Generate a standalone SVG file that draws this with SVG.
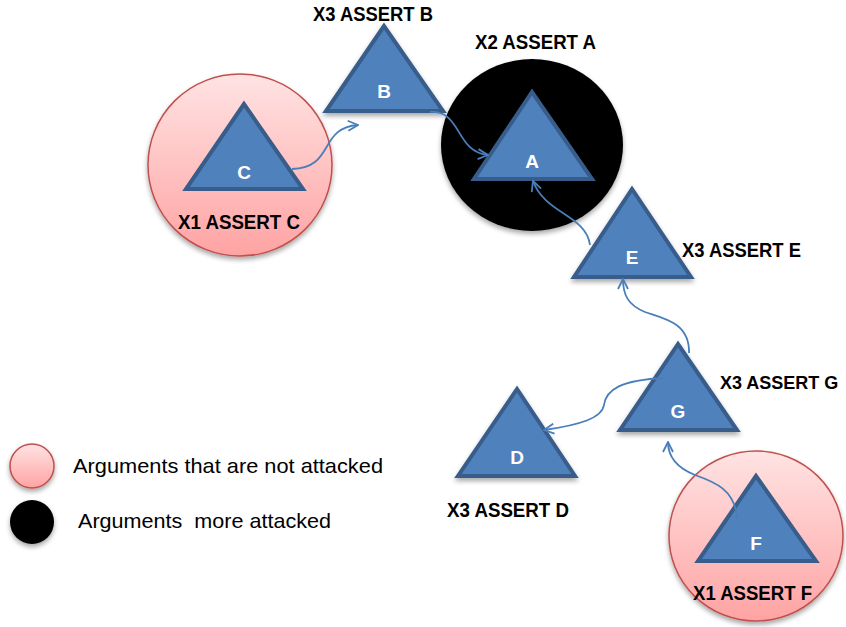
<svg xmlns="http://www.w3.org/2000/svg" width="846" height="627" viewBox="0 0 846 627">
<style>
.tri{fill:#4F81BD;stroke:#385D8A;stroke-width:4;stroke-linejoin:miter}
.tl{fill:#FFFFFF;font-family:"Liberation Sans",Arial,sans-serif;font-weight:bold;font-size:19px;text-anchor:middle}
.lab{fill:#000000;font-family:"Liberation Sans",Arial,sans-serif;font-weight:bold;font-size:19.5px}
.labg{fill:#000000;font-family:"Liberation Sans",Arial,sans-serif;font-weight:bold;font-size:18px}
.leg{fill:#000000;font-family:"Liberation Sans",Arial,sans-serif;font-size:21px;white-space:pre}
.pink{fill:url(#pg);stroke:#C0504D;stroke-width:1.5}
.conn{fill:none;stroke:#4A7EBB;stroke-width:1.8;marker-end:url(#ah)}
</style>
<defs>
<linearGradient id="pg" x1="0" y1="0" x2="0" y2="1">
<stop offset="0" stop-color="#FFE3E3"/>
<stop offset="1" stop-color="#FFA3A3"/>
</linearGradient>
<filter id="sh" x="-20%" y="-20%" width="140%" height="140%">
<feGaussianBlur in="SourceAlpha" stdDeviation="2.5"/>
<feOffset dx="0" dy="3" result="b"/>
<feComponentTransfer><feFuncA type="linear" slope="0.35"/></feComponentTransfer>
<feMerge><feMergeNode/><feMergeNode in="SourceGraphic"/></feMerge>
</filter>
<marker id="ah" viewBox="0 0 12 12" refX="11" refY="6" markerWidth="12" markerHeight="12" markerUnits="userSpaceOnUse" orient="auto">
<path d="M1,1 L11,6 L1,11" fill="none" stroke="#4A7EBB" stroke-width="1.8"/>
</marker>
</defs>
<rect width="846" height="627" fill="#FFFFFF"/>

<g id="nodeC">
<ellipse class="pink" cx="240" cy="165" rx="92" ry="91" filter="url(#sh)"/>
<polygon class="tri" points="244,104 186,189 303,189"/>
<text class="tl" x="244" y="179">C</text>
<text class="lab" x="178" y="229" textLength="122" lengthAdjust="spacingAndGlyphs">X1 ASSERT C</text>
</g>

<g id="nodeB">
<polygon class="tri" points="384,26 326,111 443,111" filter="url(#sh)"/>
<text class="tl" x="384" y="98">B</text>
<text class="lab" x="313" y="21" textLength="120" lengthAdjust="spacingAndGlyphs">X3 ASSERT B</text>
</g>

<g id="nodeA">
<ellipse cx="532" cy="145" rx="91" ry="86" fill="#000000" filter="url(#sh)"/>
<polygon class="tri" points="532,92 474,179 592,179"/>
<text class="tl" x="532" y="168">A</text>
<text class="lab" x="475" y="49" textLength="121" lengthAdjust="spacingAndGlyphs">X2 ASSERT A</text>
</g>

<g id="nodeE">
<polygon class="tri" points="632,189 574,277 691,277" filter="url(#sh)"/>
<text class="tl" x="632" y="264">E</text>
<text class="lab" x="682" y="257" textLength="119" lengthAdjust="spacingAndGlyphs">X3 ASSERT E</text>
</g>

<g id="nodeG">
<polygon class="tri" points="678,344 620,430 737,430" filter="url(#sh)"/>
<text class="tl" x="678" y="418">G</text>
<text class="labg" x="720" y="389">X3 ASSERT G</text>
</g>

<g id="nodeD">
<polygon class="tri" points="517,389 458,476 575,476" filter="url(#sh)"/>
<text class="tl" x="517" y="464">D</text>
<text class="lab" x="447" y="517" textLength="122" lengthAdjust="spacingAndGlyphs">X3 ASSERT D</text>
</g>

<g id="nodeF">
<ellipse class="pink" cx="756" cy="536" rx="87" ry="85" filter="url(#sh)"/>
<polygon class="tri" points="756,476 698,561 816,561"/>
<text class="tl" x="756" y="550">F</text>
<text class="lab" x="693" y="600" textLength="119" lengthAdjust="spacingAndGlyphs">X1 ASSERT F</text>
</g>

<g id="connectors">
<path class="conn" d="M292,169 C335,168 318,128 358,125"/>
<path class="conn" d="M430,112 C462,110 455,152 488,155"/>
<path class="conn" d="M590,245 C586,215 545,214 533,181"/>
<path class="conn" d="M689,353 C690,322 662,318 645,312 C628,305 623,295 623,279"/>
<path class="conn" d="M665,378 C620,380 606,390 604,405 C602,418 580,425 544,430"/>
<path class="conn" d="M737,518 C735,490 715,482 695,475 C675,467 668,455 668,442"/>
</g>

<g id="legend">
<circle class="pink" cx="32" cy="466" r="22" filter="url(#sh)"/>
<circle cx="32" cy="522" r="22" fill="#000000" filter="url(#sh)"/>
<text class="leg" x="73" y="473" textLength="310" lengthAdjust="spacingAndGlyphs">Arguments that are not attacked</text>
<text class="leg" x="78" y="528" textLength="253" lengthAdjust="spacingAndGlyphs" xml:space="preserve">Arguments  more attacked</text>
</g>
</svg>
